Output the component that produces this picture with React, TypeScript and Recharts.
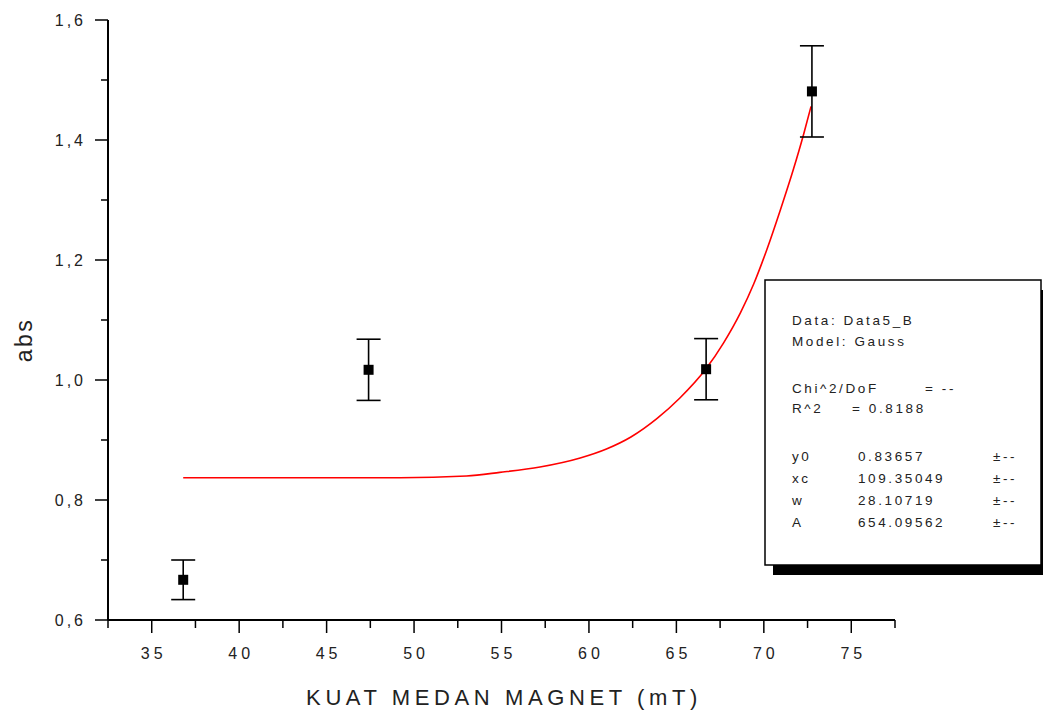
import React from 'react';
import { ComposedChart, XAxis, YAxis, Scatter, Line, ErrorBar } from 'recharts';

// Measured data points (KUAT MEDAN MAGNET in mT vs abs)
const fieldValues = [36.8, 47.4, 66.7, 72.75];
const absValues = [0.667, 1.017, 1.018, 1.481];
const absErrors = [0.033, 0.051, 0.051, 0.076];

// Gauss fit curve
const fitX = [36.8, 40, 45, 49.2, 53.0, 54.9, 57.2, 59.5, 61.0, 62.4, 63.9, 65.2, 66.65, 67.7, 68.66, 69.42, 70.18, 70.94, 71.7, 72.28, 72.7];
const fitY = [0.837, 0.837, 0.837, 0.837, 0.840, 0.846, 0.855, 0.870, 0.885, 0.905, 0.936, 0.970, 1.017, 1.062, 1.112, 1.160, 1.218, 1.283, 1.352, 1.410, 1.456];

// Axis ticks
const xTicks = [32.5, 35, 37.5, 40, 42.5, 45, 47.5, 50, 52.5, 55, 57.5, 60, 62.5, 65, 67.5, 70, 72.5, 75, 77.5];
const yTicks = [0.6, 0.7, 0.8, 0.9, 1.0, 1.1, 1.2, 1.3, 1.4, 1.5, 1.6];

// Fit results text
const fitInfoTop = ['Data: Data5_B', 'Model: Gauss'];
const paramNames = ['y0', 'xc', 'w', 'A'];
const paramValues = ['0.83657', '109.35049', '28.10719', '654.09562'];
const r2Value = '0.8188';

const points = fieldValues.map((x, i) => ({ x, y: absValues[i], err: absErrors[i] }));
const curve = fitX.map((x, i) => ({ x, y: fitY[i] }));

const FONT = "Arial, 'Liberation Sans', sans-serif";
const TXT = '#222';

const XTick = (props: any) => {
  const { x, y, payload } = props;
  const v = payload.value as number;
  const major = Math.abs(v / 5 - Math.round(v / 5)) < 1e-6;
  return (
    <g>
      <line x1={x} x2={x} y1={y} y2={y + (major ? 13 : 8)} stroke="#000" strokeWidth={1.5} />
      {major && (
        <text x={x + 2} y={y + 39} textAnchor="middle" fontSize={16} letterSpacing={4} fill={TXT} fontFamily={FONT}>
          {v}
        </text>
      )}
    </g>
  );
};

const YTick = (props: any) => {
  const { x, y, payload } = props;
  const v = payload.value as number;
  const major = Math.round(v * 10) % 2 === 0;
  return (
    <g>
      <line x1={x - (major ? 13 : 7)} x2={x} y1={y} y2={y} stroke="#000" strokeWidth={1.5} />
      {major && (
        <text x={x - 22} y={y} dy="0.35em" textAnchor="end" fontSize={16} letterSpacing={3} fill={TXT} fontFamily={FONT}>
          {v.toFixed(1).replace('.', ',')}
        </text>
      )}
    </g>
  );
};

const Square = (p: any) => <rect x={p.cx - 5} y={p.cy - 5} width={10} height={10} fill="#000" />;

export default function App() {
  return (
    <div style={{ position: 'absolute', left: 0, top: 0, width: 1043, height: 715, background: '#fff' }}>
      <ComposedChart width={1043} height={715} margin={{ top: 20, right: 148, bottom: 0, left: 8 }}>
        <XAxis
          type="number"
          dataKey="x"
          domain={[32.5, 77.5]}
          ticks={xTicks}
          interval={0}
          allowDataOverflow
          height={95}
          tickSize={0}
          tickMargin={0}
          tickLine={false}
          tick={<XTick />}
          axisLine={{ stroke: '#000', strokeWidth: 2 }}
        />
        <YAxis
          type="number"
          dataKey="y"
          domain={[0.6, 1.6]}
          ticks={yTicks}
          interval={0}
          allowDataOverflow
          width={100}
          tickSize={0}
          tickMargin={0}
          tickLine={false}
          tick={<YTick />}
          axisLine={{ stroke: '#000', strokeWidth: 2 }}
        />
        <Line
          data={curve}
          dataKey="y"
          type="monotone"
          stroke="#ff0000"
          strokeWidth={1.6}
          dot={false}
          activeDot={false}
          isAnimationActive={false}
        />
        <Scatter data={points} dataKey="y" shape={<Square />} isAnimationActive={false}>
          <ErrorBar dataKey="err" direction="y" width={12} stroke="#000" strokeWidth={1.6} isAnimationActive={false} />
        </Scatter>
      </ComposedChart>
      <svg width={1043} height={715} style={{ position: 'absolute', left: 0, top: 0, pointerEvents: 'none' }}>
        <text x={24} y={340} transform="rotate(-90 24 340)" dy="0.35em" textAnchor="middle" fontSize={23} letterSpacing={2.5} fill={TXT} fontFamily={FONT}>
          abs
        </text>
        <text x={504} y={697} dy="0.35em" textAnchor="middle" fontSize={22} letterSpacing={4.6} fill={TXT} fontFamily={FONT}>
          KUAT MEDAN MAGNET (mT)
        </text>
        <rect x={773} y={290} width={280} height={285} fill="#000" />
        <rect x={765} y={280} width={276} height={285} fill="#fff" stroke="#000" strokeWidth={1.5} />
        <g fontSize={13.5} fill={TXT} fontFamily={FONT} letterSpacing={2.6}>
          {fitInfoTop.map((t, i) => (
            <text key={t} x={792} y={325 + i * 21}>{t}</text>
          ))}
          <text x={792} y={393}>Chi^2/DoF</text>
          <text x={925} y={393}>= --</text>
          <text x={792} y={413}>R^2</text>
          <text x={852} y={413}>=  {r2Value}</text>
          {paramNames.map((n, i) => (
            <g key={n}>
              <text x={792} y={461 + i * 22}>{n}</text>
              <text x={858} y={461 + i * 22}>{paramValues[i]}</text>
              <text x={993} y={461 + i * 22}>±--</text>
            </g>
          ))}
        </g>
      </svg>
    </div>
  );
}
